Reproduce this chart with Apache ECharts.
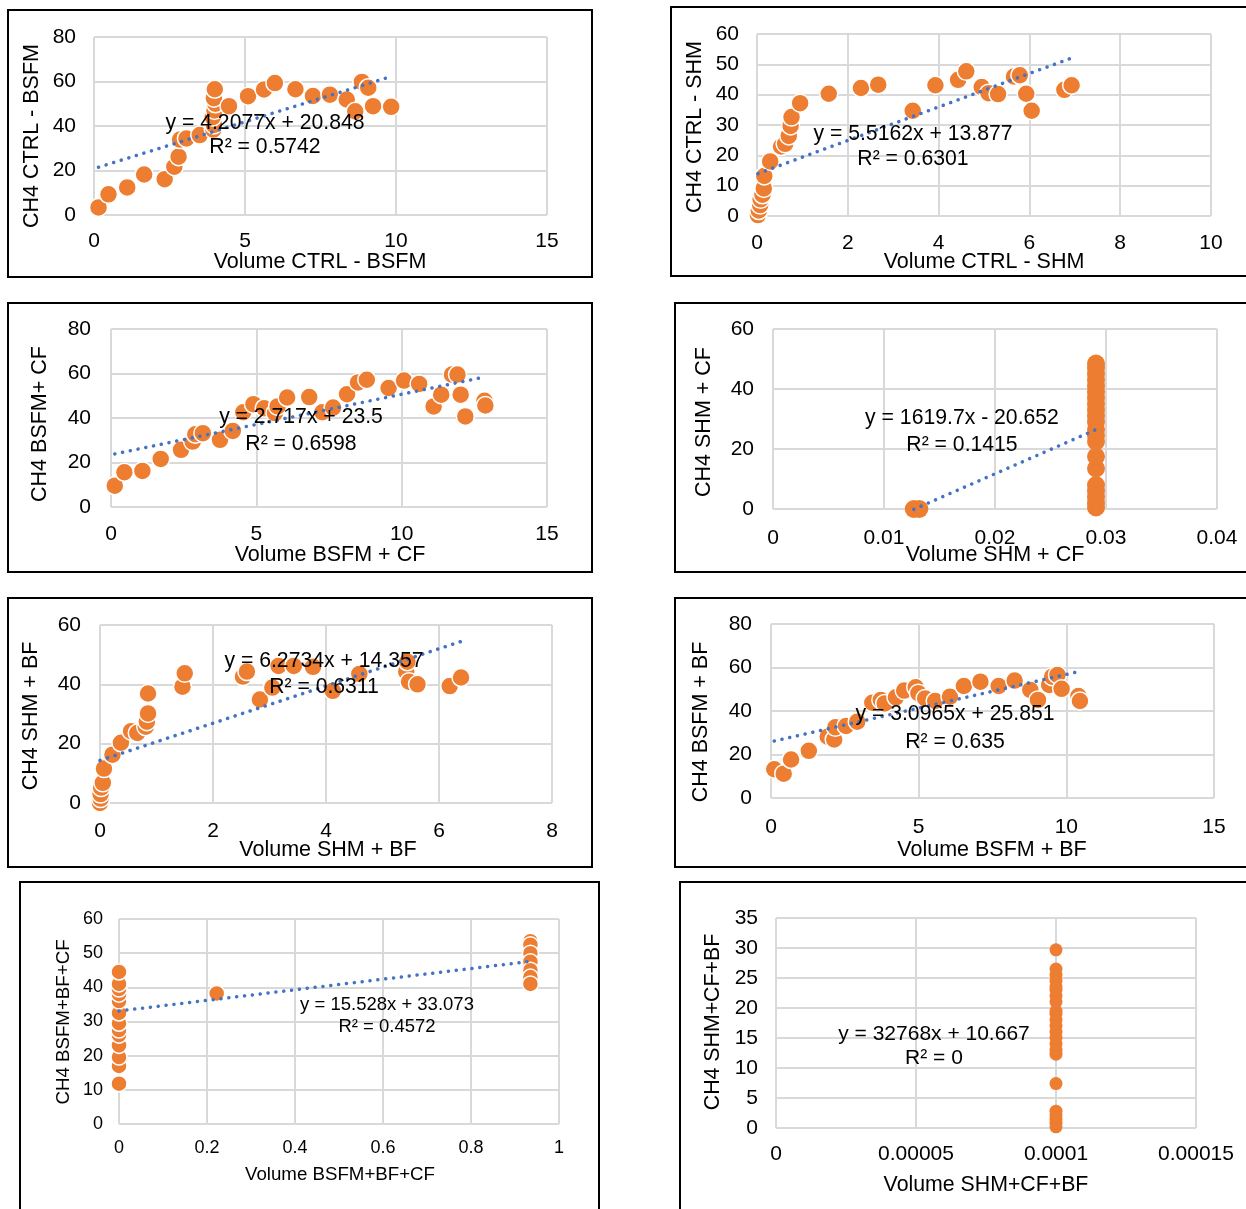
<!DOCTYPE html>
<html><head><meta charset="utf-8">
<script src="https://cdn.jsdelivr.net/npm/echarts@6/dist/echarts.min.js"></script>
<style>html,body{margin:0;padding:0;background:#fff}#c{width:1246px;height:1209px}</style>
</head><body><div id="c"></div>
<script>
// ---------- DATA ----------
const ctrlBsfmX = [0.15,0.48,1.1,1.66,2.34,2.66,2.8,2.85,3.06,3.5,3.95,3.97,3.93,3.99,4.02,3.97,4.0,4.47,5.1,5.63,5.99,6.67,7.25,7.81,8.37,8.65,8.87,9.08,9.24,9.84];
const ctrlBsfmY = [3.4,9.3,12.4,18.2,16.1,21.7,26.2,33.9,34.4,35.9,38.4,40.5,44,47,50,52.5,56.5,48.9,53.4,56.4,59.3,56.5,53.5,54.1,51.9,46.6,59.8,57.2,48.9,48.6];

const ctrlShmX = [0.02,0.04,0.07,0.08,0.12,0.15,0.16,0.29,0.53,0.62,0.7,0.74,0.76,0.95,1.58,2.29,2.67,3.43,3.93,4.43,4.61,4.95,5.1,5.31,5.66,5.79,5.93,6.05,6.77,6.93];
const ctrlShmY = [0.3,1.8,3.6,5.5,7,9.1,13.2,18,22.9,23.8,26.4,29.7,32.6,37.2,40.3,42.2,43.3,34.7,43.1,44.9,47.7,42.5,40.5,40.2,46,46.4,40.3,34.7,41.6,43.1];

const bsfmCfX = [0.13,0.46,1.08,1.71,2.41,2.81,2.9,3.16,3.75,4.19,4.55,4.9,5.27,5.64,5.73,6.06,6.82,7.27,7.64,8.12,8.5,8.8,9.55,10.08,10.6,11.1,11.36,11.73,11.92,12.03,12.19,12.85,12.88];
const bsfmCfY = [9.6,15.6,16.2,21.6,25.7,29.4,32.7,33.2,30.2,34.2,42.6,46.2,44.4,42.2,45.2,49.2,49.4,42.6,44.7,50.7,56,57.2,53.5,56.8,55.3,45.2,50.5,59.5,59.5,50.5,40.7,47.7,45.6];

const shmCfX = [0.01268,0.01318,0.0291,0.0291,0.0291,0.0291,0.0291,0.0291,0.0291,0.0291,0.0291,0.0291,0.0291,0.0291,0.0291,0.0291,0.0291,0.0291,0.0291,0.0291,0.0291,0.0291,0.0291];
const shmCfY = [0,0,0.5,2,4,6,8,13.5,17.5,22.5,24.5,26.5,29,31,33,35,37,39,41,43,45,47,48.5];

const shmBfX = [0.0,0.01,0.01,0.02,0.05,0.07,0.22,0.37,0.55,0.66,0.81,0.83,0.85,0.85,1.46,1.5,2.53,2.6,2.83,3.05,3.16,3.43,3.77,4.12,4.59,5.42,5.44,5.47,5.62,6.19,6.39];
const shmBfY = [0,1.5,3,5.2,6.8,11.6,16.3,20.3,24.2,23.6,25.7,27.4,30.2,36.9,39.2,43.7,42.6,44.3,34.9,38.9,46.2,46.2,45.9,37.8,43.5,44.3,47.6,40.9,40,39.4,42.3];

const bsfmBfX = [0.11,0.43,0.68,1.28,1.92,2.14,2.18,2.54,2.92,3.43,3.72,3.85,4.23,4.51,4.9,4.99,5.22,5.56,6.06,6.53,7.09,7.71,8.25,8.78,9.04,9.42,9.52,9.7,9.84,10.41,10.46];
const bsfmBfY = [13.2,11.2,17.7,21.7,28.2,26.9,32.5,33.1,35.1,43.8,45.1,43.5,46.3,49.4,50.9,48.2,45.8,44.6,46.6,51.5,53.5,51.5,54,49.7,45.1,52,55.8,56.6,50.2,46.9,44.6];

const bsfmBfCfX = [0,0,0,0,0,0,0,0,0,0,0,0,0,0.222,0.935,0.935,0.935,0.935,0.935,0.935,0.935];
const bsfmBfCfY = [11.8,17,19.6,23,26,27.5,29.5,32.5,36,38,39.5,41,44.5,38.2,53.5,52.5,50,47.5,45,43,41];

const shmCfBfX = [0.0001,0.0001,0.0001,0.0001,0.0001,0.0001,0.0001,0.0001,0.0001,0.0001,0.0001,0.0001,0.0001,0.0001,0.0001,0.0001,0.0001,0.0001,0.0001,0.0001,0.0001,0.0001,0.0001];
const shmCfBfY = [0.2,0.8,1.5,2.2,2.8,7.4,12.3,13,14,15,16,17,18,19,19.5,21,22,23,23.5,24.5,25.5,26.5,29.7];

const xTitles = ['Volume CTRL - BSFM','Volume CTRL - SHM','Volume BSFM + CF','Volume SHM + CF','Volume SHM + BF','Volume BSFM + BF','Volume BSFM+BF+CF','Volume SHM+CF+BF'];
const yTitles = ['CH4 CTRL - BSFM','CH4 CTRL - SHM','CH4 BSFM+ CF','CH4 SHM + CF','CH4 SHM + BF','CH4 BSFM + BF','CH4 BSFM+BF+CF','CH4 SHM+CF+BF'];
const eqTexts = ['y = 4.2077x + 20.848','y = 5.5162x + 13.877','y = 2.717x + 23.5','y = 1619.7x - 20.652','y = 6.2734x + 14.357','y = 3.0965x + 25.851','y = 15.528x + 33.073','y = 32768x + 10.667'];
const r2Texts = ['R² = 0.5742','R² = 0.6301','R² = 0.6598','R² = 0.1415','R² = 0.6311','R² = 0.635','R² = 0.4572','R² = 0'];
const slopes = [4.2077,5.5162,2.717,1619.7,6.2734,3.0965,15.528,32768];
const intercepts = [20.848,13.877,23.5,-20.652,14.357,25.851,33.073,10.667];
const showTrend = [true,true,true,true,true,true,true,false];
const xMaxs = [15,10,15,0.04,8,15,1,0.00015];
const xSteps = [5,2,5,0.01,2,5,0.2,0.00005];
const yMaxs = [80,60,80,60,60,80,60,35];
const ySteps = [20,10,20,20,20,20,10,5];

const xs = [ctrlBsfmX,ctrlShmX,bsfmCfX,shmCfX,shmBfX,bsfmBfX,bsfmBfCfX,shmCfBfX];
const ys = [ctrlBsfmY,ctrlShmY,bsfmCfY,shmCfY,shmBfY,bsfmBfY,bsfmBfCfY,shmCfBfY];

// ---------- LAYOUT ----------
const FONT = '"Liberation Sans", Arial, sans-serif';
const grids = [
  {left:94, top:37, width:453, height:178},
  {left:757, top:34, width:454, height:182},
  {left:111, top:329, width:436, height:178},
  {left:773, top:329, width:444, height:180},
  {left:100, top:625, width:452, height:178},
  {left:771, top:624, width:443, height:174},
  {left:119, top:919, width:440, height:205},
  {left:776, top:918, width:420, height:210}
];
const boxes = [
  [8,10,584,267],[671,7,600,269],[8,303,584,269],[675,303,600,269],
  [8,598,584,269],[675,598,600,269],[20,882,579,400],[680,882,600,400]
];
const tickFont = [21,21,21,21,21,21,18,21];
const nameFont = [21.5,21.5,21.5,21.5,21.5,21.5,18.7,21.3];
const eqFont = [21.2,21.2,21.2,21.2,21.2,21.2,18.5,21];
const xLabelMargin = [16,17,17,19,18,19,15,16];
const yLabelMargin = [18,18,20,19,19,19,16,18];
const symSize = [18,18,18,18,18,18,16,13];
const symBorder = [1.5,1.5,1.5,0,1.5,1.5,1.5,0];
const xTitlePos = [[320,262],[984,262],[330,555],[995,555],[328,850],[992,850],[340,1175],[986,1185]];
const yTitlePos = [[32,136],[695,127],[40,424],[704,422],[31,716],[701,722],[64,1022],[713,1022]];
const eqPos = [[265,123],[913,134],[301,417],[962,418],[324,661],[955,714],[387,1005],[934,1034]];
const r2Pos = [[265,147],[913,159],[301,444],[962,445],[324,687],[955,742],[387,1027],[934,1058]];

const fmt = v => String(+(+v).toPrecision(10));

const option = {
  animation:false,
  backgroundColor:'#fff',
  grid: grids.map(g => Object.assign({containLabel:false}, g)),
  xAxis: grids.map((g,i) => ({
    type:'value', gridIndex:i, min:0, max:xMaxs[i], interval:xSteps[i],
    axisLine:{show:false}, axisTick:{show:false},
    splitLine:{show:true, lineStyle:{color:'#D9D9D9', width:2}},
    axisLabel:{color:'#000', fontSize:tickFont[i], fontFamily:FONT, margin:xLabelMargin[i], formatter:fmt, showMinLabel:true, showMaxLabel:true}
  })),
  yAxis: grids.map((g,i) => ({
    type:'value', gridIndex:i, min:0, max:yMaxs[i], interval:ySteps[i],
    axisLine:{show:false}, axisTick:{show:false},
    splitLine:{show:true, lineStyle:{color:'#D9D9D9', width:2}},
    axisLabel:{color:'#000', fontSize:tickFont[i], fontFamily:FONT, margin:yLabelMargin[i], formatter:fmt, showMinLabel:true, showMaxLabel:true}
  })),
  series: [],
  graphic: []
};

for (let i = 0; i < 8; i++) {
  const pts = xs[i].map((x,k) => [x, ys[i][k]]);
  option.series.push({
    type:'scatter', xAxisIndex:i, yAxisIndex:i, data:pts, clip:false,
    symbol:'circle', symbolSize:symSize[i], z:2,
    itemStyle:{color:'#ED7D31', borderColor:'#fff', borderWidth:symBorder[i], opacity:1}
  });
  if (showTrend[i]) {
    const x0 = Math.min(...xs[i]), x1 = Math.max(...xs[i]);
    option.series.push({
      type:'line', xAxisIndex:i, yAxisIndex:i, symbol:'none', clip:false, z:3,
      data:[[x0, slopes[i]*x0 + intercepts[i]], [x1, slopes[i]*x1 + intercepts[i]]],
      lineStyle:{color:'#4472C4', width:3.5, type:[0.1,7.8], cap:'round'}
    });
  }
}

const txt = (x,y,text,size,rot) => ({
  type:'text', x:x, y:y, rotation:rot||0, z:100,
  style:{text:text, fill:'#000', font:size+'px '+FONT, fontSize:size, fontFamily:FONT,
    textAlign:'center', textVerticalAlign:'middle', align:'center', verticalAlign:'middle'}
});

for (let i = 0; i < 8; i++) {
  const b = boxes[i];
  option.graphic.push({type:'rect', z:50, shape:{x:b[0], y:b[1], width:b[2], height:b[3]},
    style:{fill:'none', stroke:'#000', lineWidth:2}});
  option.graphic.push(txt(xTitlePos[i][0], xTitlePos[i][1], xTitles[i], nameFont[i]));
  option.graphic.push(txt(yTitlePos[i][0], yTitlePos[i][1], yTitles[i], nameFont[i], Math.PI/2));
  option.graphic.push(txt(eqPos[i][0], eqPos[i][1], eqTexts[i], eqFont[i]));
  option.graphic.push(txt(r2Pos[i][0], r2Pos[i][1], r2Texts[i], eqFont[i]));
}

const chart = echarts.init(document.getElementById('c'), null, {renderer:'canvas'});
chart.setOption(option);
</script>
</body></html>
